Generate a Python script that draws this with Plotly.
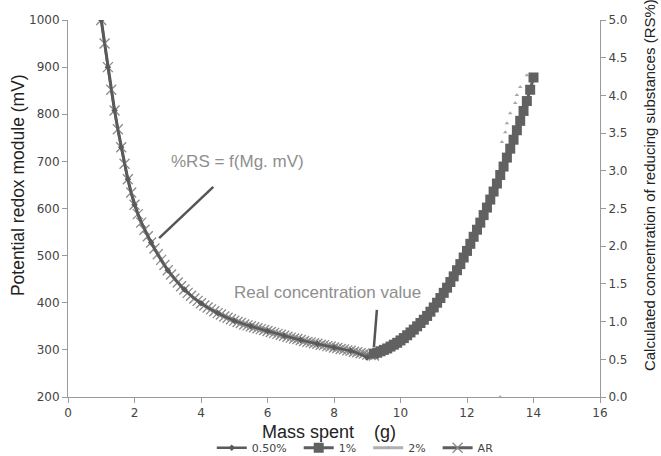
import plotly.graph_objects as go

# ---- data ----
x_ar = [1.0, 1.1, 1.2, 1.3, 1.4, 1.5, 1.6, 1.7, 1.8, 1.9,
        2.0, 2.1, 2.2, 2.3, 2.4, 2.5, 2.6, 2.7, 2.8, 2.9,
        3.0, 3.1, 3.2, 3.3, 3.4, 3.5, 3.6, 3.7, 3.8, 3.9,
        4.0, 4.1, 4.2, 4.3, 4.4, 4.5, 4.6, 4.7, 4.8, 4.9,
        5.0, 5.1, 5.2, 5.3, 5.4, 5.5, 5.6, 5.7, 5.8, 5.9,
        6.0, 6.1, 6.2, 6.3, 6.4, 6.5, 6.6, 6.7, 6.8, 6.9,
        7.0, 7.1, 7.2, 7.3, 7.4, 7.5, 7.6, 7.7, 7.8, 7.9,
        8.0, 8.1, 8.2, 8.3, 8.4, 8.5, 8.6, 8.7, 8.8, 8.9,
        9.0, 9.1, 9.2]
y_ar = [1000, 950, 900, 852, 808, 768, 730, 695, 662, 634,
        608, 588, 570, 555, 541, 528, 515, 503, 491, 480,
        469, 460, 451, 443, 435, 428, 421, 415, 409, 404,
        399, 394, 390, 386, 382, 378, 375, 371, 368, 365,
        362, 359, 357, 354, 352, 350, 348, 346, 344, 342,
        340, 338, 336, 334, 332, 330, 328, 326, 324, 323,
        321, 319, 317, 316, 314, 313, 311, 310, 308, 307,
        305, 304, 302, 301, 299, 298, 296, 295, 293, 292,
        290, 289, 288]

x_050 = [1.0, 1.2, 1.4, 1.6, 1.8, 2.0, 2.5, 3.0, 3.5, 4.0,
         4.5, 5.0, 5.5, 6.0, 6.5, 7.0, 7.5, 8.0, 8.5, 9.0]
y_050 = [1000, 900, 808, 730, 662, 608, 528, 469, 428, 399,
         378, 362, 350, 340, 330, 321, 313, 305, 298, 284]

x_1 = [9.2, 9.3, 9.4, 9.5, 9.6, 9.7, 9.8, 9.9,
       10.0, 10.1, 10.2, 10.3, 10.4, 10.5, 10.6, 10.7, 10.8, 10.9,
       11.0, 11.1, 11.2, 11.3, 11.4, 11.5, 11.6, 11.7, 11.8, 11.9,
       12.0, 12.1, 12.2, 12.3, 12.4, 12.5, 12.6, 12.7, 12.8, 12.9,
       13.0, 13.1, 13.2, 13.3, 13.4, 13.5, 13.6, 13.7, 13.8, 13.9, 14.0]
y_1 = [292, 294, 297, 300, 303, 307, 311, 315,
       320, 325, 331, 337, 343, 350, 357, 364, 372, 381,
       390, 400, 410, 421, 432, 444, 456, 469, 482, 496,
       510, 525, 540, 555, 570, 586, 602, 619, 636, 653,
       671, 689, 708, 727, 746, 766, 786, 807, 828, 852, 878]

x_2 = [13.0, 13.05, 13.15, 13.2, 13.3, 13.45, 13.5, 13.6, 13.8]
y_2 = [200, 741, 762, 781, 802, 824, 841, 858, 883]

x_ticks = [0, 2, 4, 6, 8, 10, 12, 14, 16]
y_ticks = [200, 300, 400, 500, 600, 700, 800, 900, 1000]
y2_ticks = [0.0, 0.5, 1.0, 1.5, 2.0, 2.5, 3.0, 3.5, 4.0, 4.5, 5.0]

# annotation texts/positions (data units)
note1_text, note1_pos = "%RS = f(Mg. mV)", (5.1, 699)
note2_text, note2_pos = "Real concentration value", (7.8, 421)
pointer1 = (2.74, 537, 4.37, 646)
pointer2 = (9.2, 306, 9.29, 385)

# ---- figure ----
fig = go.Figure()
pad = "\u00a0\u00a0"  # extra spacing between legend entries

# AR (drawn first so the other lines sit on top)
fig.add_trace(go.Scatter(
    x=x_ar, y=y_ar, name="AR", mode="lines+markers", legendrank=4,
    line=dict(color="#5e5e5e", width=3),
    marker=dict(symbol="x-thin", size=10, color="#8a8a8a",
                line=dict(color="#8a8a8a", width=1.3))))

fig.add_trace(go.Scatter(
    x=x_050, y=y_050, name="0.50%" + pad, mode="lines+markers", legendrank=1,
    line=dict(color="#5a5a5a", width=2.5, shape="spline"),
    marker=dict(symbol="diamond", size=5, color="#5a5a5a")))

# 2% shown as separate small triangles
x_2g, y_2g = [], []
for xv, yv in zip(x_2, y_2):
    x_2g += [xv, None]
    y_2g += [yv, None]
fig.add_trace(go.Scatter(
    x=x_2g, y=y_2g, name="2%" + pad, mode="lines+markers", legendrank=3,
    connectgaps=False,
    line=dict(color="#b0b0b0", width=3),
    marker=dict(symbol="triangle-up", size=4, color="#a8a8a8")))

fig.add_trace(go.Scatter(
    x=x_1, y=y_1, name="1%" + pad, mode="lines+markers", legendrank=2,
    line=dict(color="#5f5f5f", width=3),
    marker=dict(symbol="square", size=10, color="#616161")))

# empty trace so the secondary (RS%) axis is drawn
fig.add_trace(go.Scatter(x=[], y=[], yaxis="y2", showlegend=False,
                         hoverinfo="skip"))

axis_line = "#9a9a9a"
tick_font = dict(family="DejaVu Sans", size=12, color="#444444")

fig.update_layout(
    width=661, height=456,
    margin=dict(l=68, r=61, t=20, b=59, autoexpand=False),
    paper_bgcolor="white", plot_bgcolor="white",
    showlegend=True,
    legend=dict(orientation="h", x=0.54, xanchor="center", y=-0.096, yanchor="top",
                font=dict(family="DejaVu Sans", size=11, color="#444444"),
                itemwidth=30, tracegroupgap=0, bgcolor="rgba(0,0,0,0)"),
    xaxis=dict(range=[0, 16], tickvals=x_ticks, ticks="outside", ticklen=5,
               tickcolor=axis_line, showline=True, linecolor=axis_line, linewidth=1,
               showgrid=False, zeroline=False, tickfont=tick_font),
    yaxis=dict(range=[200, 1000], tickvals=y_ticks, ticks="outside", ticklen=5,
               tickcolor=axis_line, showline=True, linecolor=axis_line, linewidth=1,
               showgrid=False, zeroline=False, tickfont=tick_font),
    yaxis2=dict(range=[0, 5], tickvals=y2_ticks, tickformat=".1f", overlaying="y",
                side="right", ticks="outside", ticklen=5, tickcolor=axis_line,
                showline=True, linecolor=axis_line, linewidth=1, showgrid=False,
                zeroline=False, tickfont=tick_font, anchor="x"),
)

title_font = dict(family="Liberation Sans", color="#222222")
fig.add_annotation(text="Potential redox module (mV)", xref="paper", yref="paper",
                   x=-0.094, y=0.562, xanchor="center", yanchor="middle",
                   textangle=-90, showarrow=False, font=dict(size=17.5, **title_font))
fig.add_annotation(text="Calculated concentration of reducing substances (RS%)",
                   xref="paper", yref="paper", x=1.092, y=0.562, xanchor="center",
                   yanchor="middle", textangle=-90,
                   showarrow=False, font=dict(size=15, **title_font))
fig.add_annotation(text="Mass spent \u00a0\u00a0 (g)", xref="paper", yref="paper",
                   x=0.49, y=-0.093, showarrow=False, xanchor="center", yanchor="middle",
                   font=dict(size=18, **title_font))

note_font = dict(family="Liberation Sans", size=17, color="#8e8e8e")
fig.add_annotation(text=note1_text, x=note1_pos[0], y=note1_pos[1], showarrow=False,
                   font=note_font)
fig.add_annotation(text=note2_text, x=note2_pos[0], y=note2_pos[1], showarrow=False,
                   font=note_font)
for p in (pointer1, pointer2):
    fig.add_shape(type="line", x0=p[0], y0=p[1], x1=p[2], y1=p[3],
                  xref="x", yref="y", line=dict(color="#555555", width=2.5))

fig.write_html("out.html")
